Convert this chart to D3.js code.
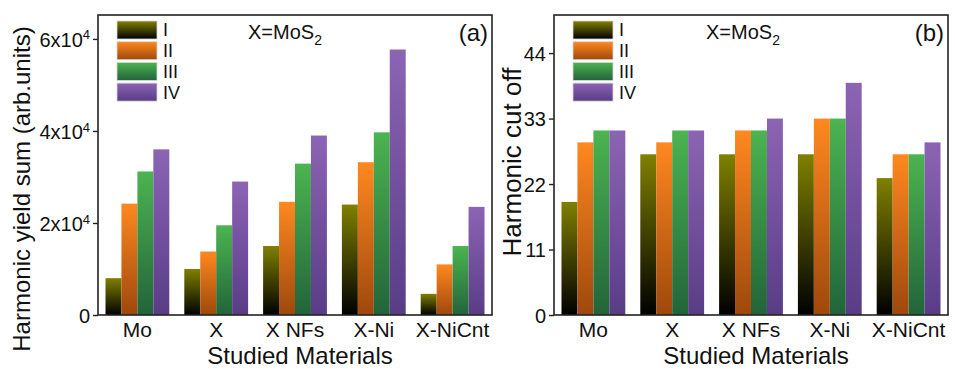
<!DOCTYPE html>
<html>
<head>
<meta charset="utf-8">
<script src="https://cdn.jsdelivr.net/npm/d3@7"></script>
<style>
body { margin: 0; background: #fff; }
svg text { font-family: "Liberation Sans", Arial, sans-serif; fill: #111; }
</style>
</head>
<body>
<svg id="chart" width="955" height="369"></svg>
<script>
"use strict";

//
//	Data
//
var categories = ["Mo", "X", "X NFs", "X-Ni", "X-NiCnt"];
var seriesNames = ["I", "II", "III", "IV"];

// panel (a) : harmonic yield sum (arb. units)
var yieldI   = [8000, 10000, 15000, 24000, 4600];
var yieldII  = [24200, 13800, 24600, 33200, 11000];
var yieldIII = [31200, 19500, 32900, 39700, 15000];
var yieldIV  = [36000, 29000, 39000, 57700, 23500];

// panel (b) : harmonic cut off
var cutI   = [19, 27, 27, 27, 23];
var cutII  = [29, 29, 31, 33, 27];
var cutIII = [31, 31, 31, 33, 27];
var cutIV  = [31, 31, 33, 39, 29];

var yieldTicks = [0, 20000, 40000, 60000];
var cutTicks = [0, 11, 22, 33, 44];

var svg = d3.select("#chart");

//	gradients for each series (top colour -> bottom colour)
var gradStops = {
	I:   ["#808000", "#000000"],
	II:  ["#ff8820", "#9e480c"],
	III: ["#4cb450", "#22643a"],
	IV:  ["#8c64b4", "#593c86"]
};
var defs = svg.append("defs");
seriesNames.forEach(function(s){
	var g = defs.append("linearGradient")
		.attr("id", "grad" + s)
		.attr("x1", 0).attr("y1", 0).attr("x2", 0).attr("y2", 1);
	g.append("stop").attr("offset", "0%").attr("stop-color", gradStops[s][0]);
	g.append("stop").attr("offset", "100%").attr("stop-color", gradStops[s][1]);
});

function drawPanel(opt){
	var g = svg.append("g");
	var x0 = d3.scaleBand().domain(categories).range([opt.left, opt.right]).padding(0);
	var x1 = d3.scaleBand().domain(seriesNames).range([0, x0.bandwidth()]).paddingInner(0).paddingOuter(0.47);
	var y = d3.scaleLinear().domain([0, opt.ymax]).range([opt.bottom, opt.top]);

	//	bars
	var rows = categories.map(function(c, i){
		return seriesNames.map(function(s, k){ return {cat: c, s: s, v: opt.values[k][i]}; });
	});
	g.selectAll("g.grp").data(rows).enter().append("g")
		.attr("transform", function(d){ return "translate(" + x0(d[0].cat) + ",0)"; })
		.selectAll("rect").data(function(d){ return d; }).enter().append("rect")
		.attr("x", function(d){ return x1(d.s); })
		.attr("width", x1.bandwidth())
		.attr("y", function(d){ return y(d.v); })
		.attr("height", function(d){ return y(0) - y(d.v); })
		.attr("fill", function(d){ return "url(#grad" + d.s + ")"; });

	//	frame
	g.append("rect")
		.attr("x", opt.left).attr("y", opt.top)
		.attr("width", opt.right - opt.left).attr("height", opt.bottom - opt.top)
		.attr("fill", "none").attr("stroke", "#222").attr("stroke-width", 1.6);

	//	y axis
	var ax = d3.axisLeft(y).tickValues(opt.ticks).tickSize(5).tickPadding(3).tickFormat("");
	var axg = g.append("g").attr("transform", "translate(" + opt.left + ",0)").call(ax);
	axg.select(".domain").remove();
	axg.selectAll("line").attr("stroke", "#222").attr("stroke-width", 1.4);
	axg.selectAll(".tick").each(function(d){
		var t = d3.select(this).append("text")
			.attr("x", -8).attr("dy", "0.36em")
			.attr("text-anchor", "end")
			.style("font-size", "20px");
		opt.tickLabel(t, d);
	});

	//	category labels
	g.selectAll("text.cat").data(categories).enter().append("text")
		.attr("class", "cat")
		.attr("x", function(d){ return x0(d) + x0.bandwidth() / 2; })
		.attr("y", 337)
		.attr("text-anchor", "middle")
		.style("font-size", "21px")
		.text(function(d){ return d; });

	//	axis titles
	g.append("text")
		.attr("x", (opt.left + opt.right) / 2 + 5).attr("y", 364)
		.attr("text-anchor", "middle").style("font-size", "24px")
		.text("Studied Materials");
	g.append("text")
		.attr("transform", "translate(" + opt.ytitleX + "," + opt.ytitleY + ") rotate(-90)")
		.attr("text-anchor", "middle").style("font-size", opt.ytitleSize)
		.text(opt.ytitle);

	//	legend
	var lg = g.append("g").attr("transform", "translate(" + opt.legendX + ",21)");
	var item = lg.selectAll("g").data(seriesNames).enter().append("g")
		.attr("transform", function(d, i){ return "translate(0," + (i * 20.7) + ")"; });
	item.append("rect").attr("width", 40).attr("height", 18)
		.attr("fill", function(d){ return "url(#grad" + d + ")"; })
		.attr("stroke", "#d8d8d8").attr("stroke-width", 0.8);
	item.append("text").attr("x", 46).attr("y", 9).attr("dy", "0.36em")
		.style("font-size", "18px").text(function(d){ return d; });

	//	annotation and panel letter
	var ann = g.append("text").attr("x", opt.annX).attr("y", 39).style("font-size", "20px");
	ann.append("tspan").text("X=MoS");
	ann.append("tspan").attr("dy", 6).style("font-size", "14px").text("2");
	g.append("text").attr("x", opt.right - 4).attr("y", 41)
		.attr("text-anchor", "end").style("font-size", "24px").text(opt.letter);
}

drawPanel({
	left: 98, right: 492, top: 15, bottom: 315,
	ymax: 65200,
	values: [yieldI, yieldII, yieldIII, yieldIV],
	ticks: yieldTicks,
	tickLabel: function(t, d){
		if (d === 0) { t.text("0"); return; }
		t.append("tspan").text((d / 10000) + "x10");
		t.append("tspan").attr("dy", "-0.55em").style("font-size", "13px").text("4");
	},
	ytitle: "Harmonic yield sum (arb.units)", ytitleX: 30, ytitleY: 189, ytitleSize: "24px",
	legendX: 117, annX: 248, letter: "(a)"
});

drawPanel({
	left: 554, right: 948, top: 15, bottom: 315,
	ymax: 50.4,
	values: [cutI, cutII, cutIII, cutIV],
	ticks: cutTicks,
	tickLabel: function(t, d){ t.text(d); },
	ytitle: "Harmonic cut off", ytitleX: 521, ytitleY: 162, ytitleSize: "26px",
	legendX: 573, annX: 706, letter: "(b)"
});
</script>
</body>
</html>
